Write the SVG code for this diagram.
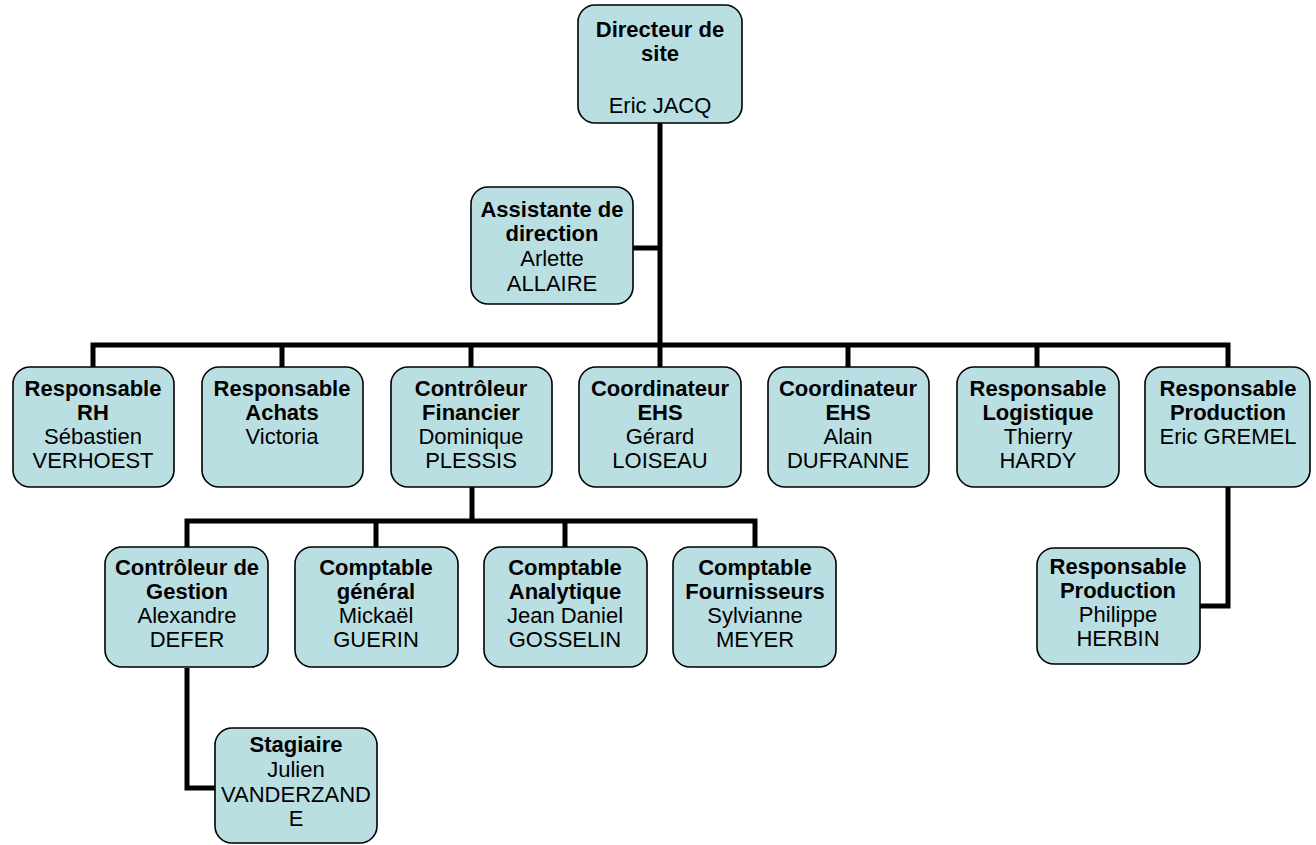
<svg xmlns="http://www.w3.org/2000/svg" width="1316" height="845" viewBox="0 0 1316 845">
<style>
.box{fill:#BADFE2;stroke:#000;stroke-width:1.6}
.ln{fill:none;stroke:#000;stroke-width:5;stroke-linejoin:miter;stroke-linecap:butt}
text{font-family:"Liberation Sans",Arial,sans-serif;font-size:22px;fill:#000;text-anchor:middle}
.b{font-weight:bold}
</style>
<rect width="1316" height="845" fill="#fff"/>
<g id="connectors">
<path class="ln" d="M660 123V367"/>
<path class="ln" d="M633 248H660"/>
<path class="ln" d="M93 367V345H1228V367"/>
<path class="ln" d="M282 345V367M471 345V367M848 345V367M1037 345V367"/>
<path class="ln" d="M1228 487V606H1200"/>
<path class="ln" d="M472 487V521"/>
<path class="ln" d="M187 547V521H755V547"/>
<path class="ln" d="M376 521V547M565 521V547"/>
<path class="ln" d="M187 668V788H215"/>
</g>
<g id="n-directeur">
<rect class="box" x="578" y="5" width="164" height="118" rx="17"/>
<text x="660" y="37" class="b">Directeur de</text>
<text x="660" y="61" class="b">site</text>
<text x="660" y="113">Eric JACQ</text>
</g>
<g id="n-assistante">
<rect class="box" x="471" y="187" width="162" height="117" rx="17"/>
<text x="552" y="217" class="b">Assistante de</text>
<text x="552" y="241" class="b">direction</text>
<text x="552" y="266">Arlette</text>
<text x="552" y="291">ALLAIRE</text>
</g>
<g id="n-rh">
<rect class="box" x="13" y="367" width="161" height="120" rx="17"/>
<text x="93" y="396" class="b">Responsable</text>
<text x="93" y="420" class="b">RH</text>
<text x="93" y="444">Sébastien</text>
<text x="93" y="468">VERHOEST</text>
</g>
<g id="n-achats">
<rect class="box" x="202" y="367" width="161" height="120" rx="17"/>
<text x="282" y="396" class="b">Responsable</text>
<text x="282" y="420" class="b">Achats</text>
<text x="282" y="444">Victoria</text>
</g>
<g id="n-cf">
<rect class="box" x="391" y="367" width="161" height="120" rx="17"/>
<text x="471" y="396" class="b">Contrôleur</text>
<text x="471" y="420" class="b">Financier</text>
<text x="471" y="444">Dominique</text>
<text x="471" y="468">PLESSIS</text>
</g>
<g id="n-ehs1">
<rect class="box" x="579" y="367" width="162" height="120" rx="17"/>
<text x="660" y="396" class="b">Coordinateur</text>
<text x="660" y="420" class="b">EHS</text>
<text x="660" y="444">Gérard</text>
<text x="660" y="468">LOISEAU</text>
</g>
<g id="n-ehs2">
<rect class="box" x="768" y="367" width="161" height="120" rx="17"/>
<text x="848" y="396" class="b">Coordinateur</text>
<text x="848" y="420" class="b">EHS</text>
<text x="848" y="444">Alain</text>
<text x="848" y="468">DUFRANNE</text>
</g>
<g id="n-logistique">
<rect class="box" x="957" y="367" width="162" height="120" rx="17"/>
<text x="1038" y="396" class="b">Responsable</text>
<text x="1038" y="420" class="b">Logistique</text>
<text x="1038" y="444">Thierry</text>
<text x="1038" y="468">HARDY</text>
</g>
<g id="n-production">
<rect class="box" x="1145" y="367" width="165" height="120" rx="17"/>
<text x="1228" y="396" class="b">Responsable</text>
<text x="1228" y="420" class="b">Production</text>
<text x="1228" y="444">Eric GREMEL</text>
</g>
<g id="n-production2">
<rect class="box" x="1037" y="548" width="163" height="116" rx="17"/>
<text x="1118" y="574" class="b">Responsable</text>
<text x="1118" y="598" class="b">Production</text>
<text x="1118" y="622">Philippe</text>
<text x="1118" y="646">HERBIN</text>
</g>
<g id="n-cg">
<rect class="box" x="105" y="547" width="163" height="120" rx="17"/>
<text x="187" y="575" class="b">Contrôleur de</text>
<text x="187" y="599" class="b">Gestion</text>
<text x="187" y="623">Alexandre</text>
<text x="187" y="647">DEFER</text>
</g>
<g id="n-cgeneral">
<rect class="box" x="295" y="547" width="163" height="120" rx="17"/>
<text x="376" y="575" class="b">Comptable</text>
<text x="376" y="599" class="b">général</text>
<text x="376" y="623">Mickaël</text>
<text x="376" y="647">GUERIN</text>
</g>
<g id="n-canalytique">
<rect class="box" x="484" y="547" width="163" height="120" rx="17"/>
<text x="565" y="575" class="b">Comptable</text>
<text x="565" y="599" class="b">Analytique</text>
<text x="565" y="623">Jean Daniel</text>
<text x="565" y="647">GOSSELIN</text>
</g>
<g id="n-cfournisseurs">
<rect class="box" x="673" y="547" width="163" height="120" rx="17"/>
<text x="755" y="575" class="b">Comptable</text>
<text x="755" y="599" class="b">Fournisseurs</text>
<text x="755" y="623">Sylvianne</text>
<text x="755" y="647">MEYER</text>
</g>
<g id="n-stagiaire">
<rect class="box" x="215" y="728" width="162" height="115" rx="17"/>
<text x="296" y="752" class="b">Stagiaire</text>
<text x="296" y="777">Julien</text>
<text x="296" y="802">VANDERZAND</text>
<text x="296" y="826">E</text>
</g>
</svg>
